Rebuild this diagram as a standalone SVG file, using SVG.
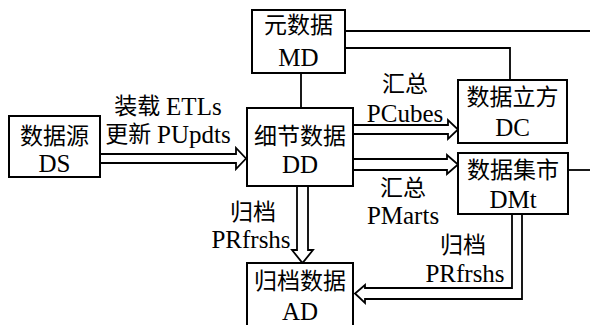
<svg xmlns="http://www.w3.org/2000/svg" width="590" height="325" viewBox="0 0 590 325">
<style>
.box{fill:#fff;stroke:#000;stroke-width:2}
.ln{fill:none;stroke:#000;stroke-width:1.8}
text{font-family:"Liberation Serif","Noto Sans CJK SC",serif;font-size:23px;text-anchor:middle;dominant-baseline:central;fill:#000}
.l{font-size:25px}
</style>
<rect width="590" height="325" fill="#fff"/>
<g id="connectors">
<line class="ln" x1="345" y1="31" x2="590" y2="31"/>
<polyline class="ln" points="345,48 510,48 510,80"/>
<line class="ln" x1="301" y1="73" x2="301" y2="108"/>
<polyline class="ln" points="100,154 236,154 236,148 246,158.5 236,169 236,163 100,163"/>
<polyline class="ln" points="353,125 448,125 448,120 458,129.5 448,139 448,134 353,134"/>
<polyline class="ln" points="353,159 447,159 447,155 458,164.5 447,174 447,170 353,170"/>
<polyline class="ln" points="297,186 297,250 292,250 302.5,263 313,250 308,250 308,186"/>
<polyline class="ln" points="522,214 522,299 365,299 365,303 355,293.5 365,285 365,288 512,288 512,214"/>
<line class="ln" x1="568" y1="170" x2="590" y2="170"/>
<text x="168" y="106">装载 <tspan class="l">ETLs</tspan></text>
<text x="168" y="134">更新 <tspan class="l">PUpdts</tspan></text>
<text x="405" y="84">汇总</text>
<text class="l" x="405" y="113">PCubes</text>
<text x="403" y="188">汇总</text>
<text class="l" x="403" y="215">PMarts</text>
<text x="253" y="212">归档</text>
<text class="l" x="251" y="239">PRfrshs</text>
<text x="463" y="245">归档</text>
<text class="l" x="465" y="273">PRfrshs</text>
</g>
<g id="DS"><rect class="box" x="9" y="116" width="91" height="61"/><text x="54.5" y="136">数据源</text><text class="l" x="54.5" y="163">DS</text></g>
<g id="MD"><rect class="box" x="252" y="10" width="93" height="63"/><text x="298.5" y="25">元数据</text><text class="l" x="298.5" y="57">MD</text></g>
<g id="DD"><rect class="box" x="247" y="108" width="106" height="78"/><text x="300" y="136">细节数据</text><text class="l" x="300" y="164">DD</text></g>
<g id="DC"><rect class="box" x="458" y="80" width="109" height="63"/><text x="512.5" y="97">数据立方</text><text class="l" x="512.5" y="127">DC</text></g>
<g id="DMt"><rect class="box" x="458" y="153" width="110" height="61"/><text x="513" y="170">数据集市</text><text class="l" x="513" y="199">DMt</text></g>
<g id="AD"><rect class="box" x="247" y="263" width="106" height="70"/><text x="300" y="281">归档数据</text><text class="l" x="300" y="311">AD</text></g>
</svg>
